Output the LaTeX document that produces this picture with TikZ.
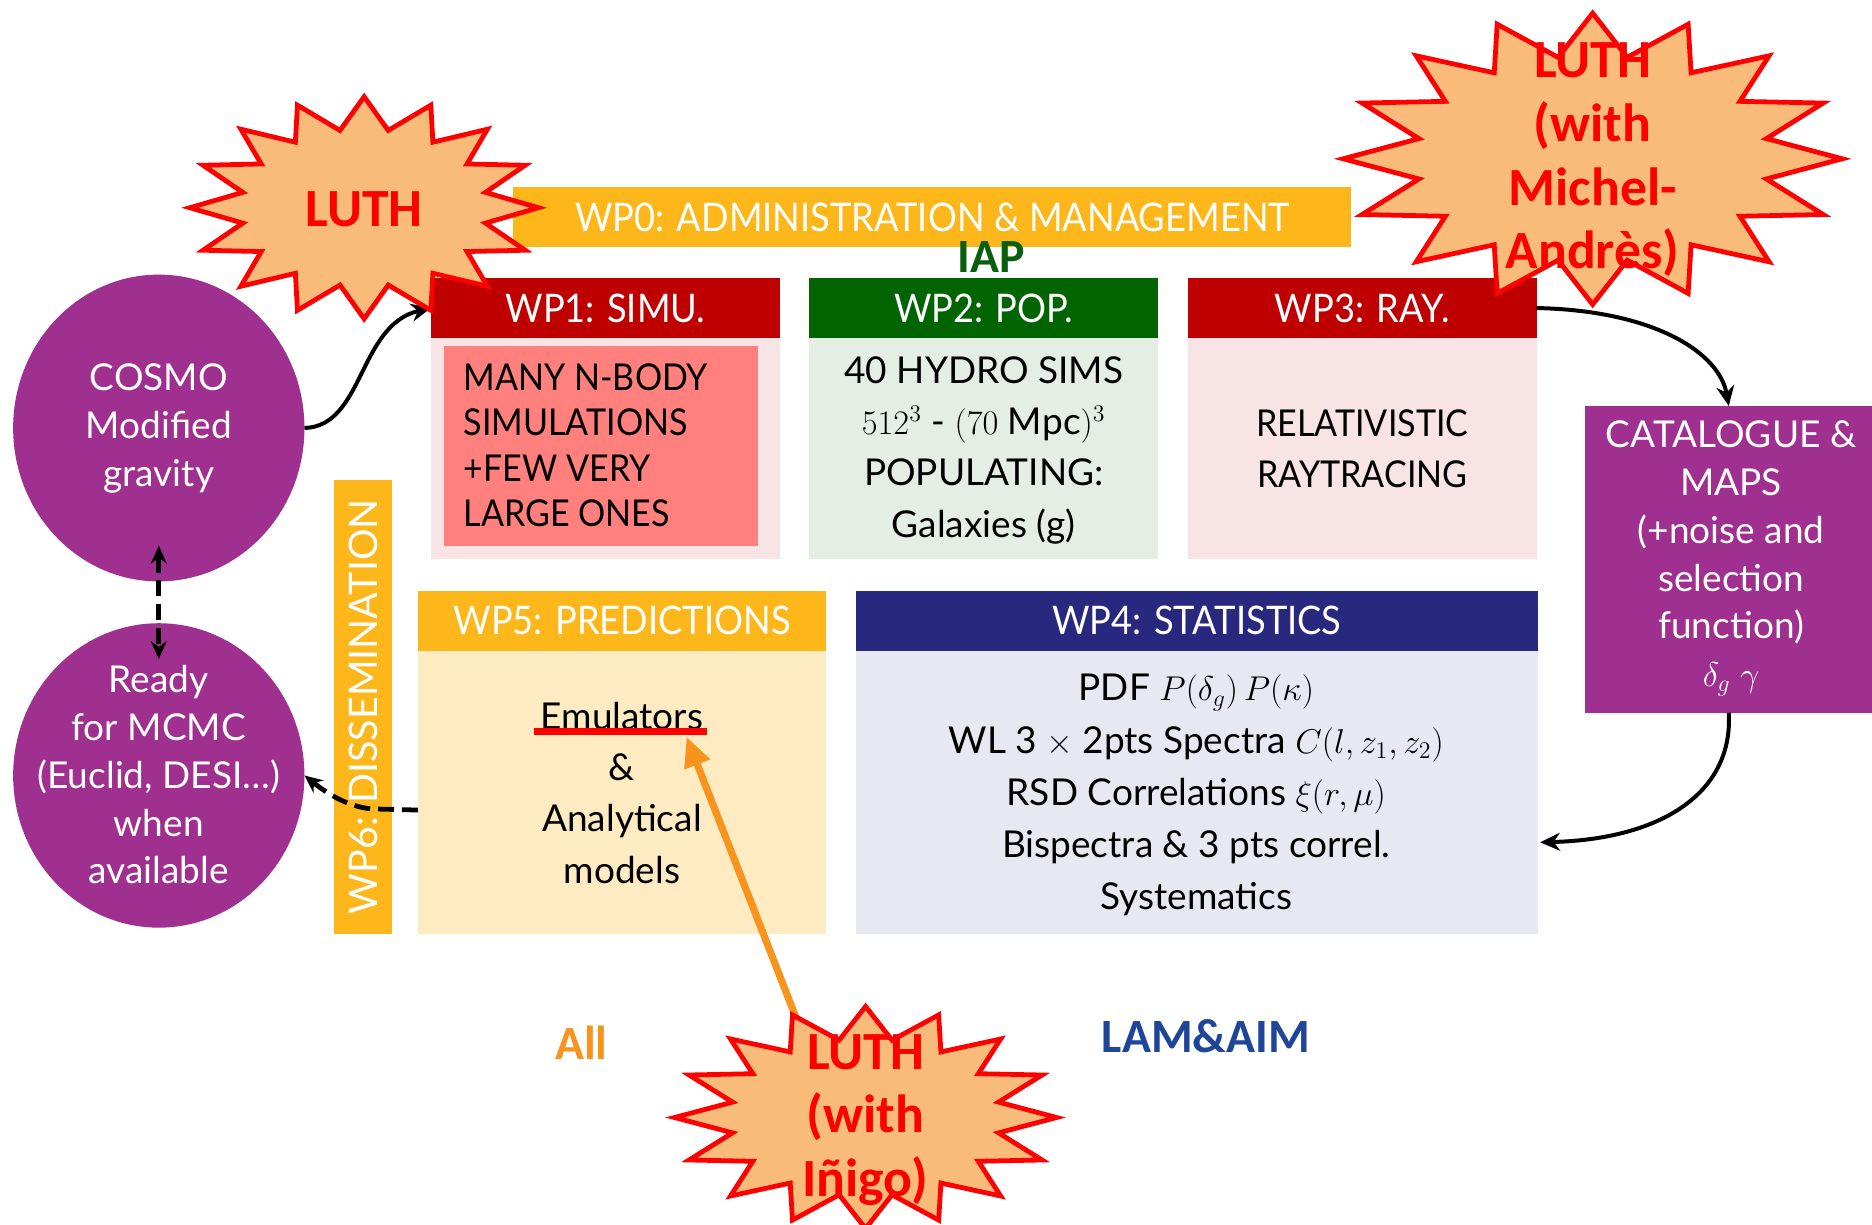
\documentclass[tikz,border=0pt]{standalone}
\usepackage{fontspec}
\setmainfont{Lato}
\newfontfamily\capsfont{Lato}[FakeStretch=0.92]
\newfontfamily\burstfont{Carlito}
\usetikzlibrary{arrows.meta,calc,shapes.geometric}

\definecolor{wpamber}{HTML}{FDB71A}
\definecolor{wpred}{HTML}{BE0000}
\definecolor{wpgreen}{HTML}{006400}
\definecolor{wpnavy}{HTML}{29287F}
\definecolor{wppurple}{HTML}{A0308F}
\definecolor{pinkbody}{HTML}{F8E4E5}
\definecolor{salmon}{HTML}{FF807C}
\definecolor{greenbody}{HTML}{E4EEE5}
\definecolor{cream}{HTML}{FFEBC2}
\definecolor{lavender}{HTML}{E8E8F3}
\definecolor{burstfill}{HTML}{F9BB7A}
\definecolor{allorange}{HTML}{F7941D}
\definecolor{lamblue}{HTML}{1F4599}
\definecolor{iapgreen}{HTML}{0B5E0E}

% one drawing unit
\newcommand\pxu{0.6pt}

% 16-point explosion outline around a named centre: centre, x radius, y radius
\newcommand\starburst[3]{%
  \draw[burstline, shift={(#1)}] plot[samples at={0,...,32}, variable=\k]
    ({(1-0.29*mod(\k,2))*#2*cos(90+11.25*\k)}, {(1-0.29*mod(\k,2))*#3*sin(90+11.25*\k)}) -- cycle;}

\tikzset{
  sz/.style 2 args={minimum width=#1*\pxu, minimum height=#2*\pxu},
  box/.style={rectangle, inner sep=0pt, outer sep=0pt},
  hdr/.style={box, text=white, font={\capsfont\fontsize{19.8}{23}\selectfont}},
  bodytext/.style={align=center, inner sep=0pt, font=\fontsize{18.6}{25.8}\selectfont},
  capstext/.style={align=center, inner sep=0pt, font={\capsfont\fontsize{18.6}{25.8}\selectfont}},
  blob/.style={ellipse, inner sep=0pt, outer sep=0pt, fill=wppurple},
  blobtext/.style={align=center, inner sep=0pt, text=white, font=\fontsize{18.6}{24}\selectfont},
  burstline/.style={fill=burstfill, draw=red, line width=2.4pt, line join=miter},
  bursttext/.style={align=center, inner sep=0pt, text=red, font={\burstfont\bfseries\fontsize{27}{32}\selectfont}},
  tag/.style={inner sep=0pt, font={\burstfont\bfseries\fontsize{24}{28}\selectfont}},
  link/.style={draw=black, line width=2pt, -{Stealth[length=10pt, width=9pt]}},
  dashlink/.style={draw=black, line width=2.4pt, dash pattern=on 8pt off 4pt},
  orangelink/.style={draw=allorange, line width=3.6pt, -{Triangle[length=15pt, width=13pt]}},
}

\begin{document}
\begin{tikzpicture}[x=0.6pt, y=-0.6pt]
\useasboundingbox (0,0) rectangle (1568,1026);
\fill[white] (0,0) rectangle (1568,1026);

% management bar
\node[hdr, fill=wpamber, sz={702}{50}] (wp0) at (781,182) {WP0: ADMINISTRATION \& MANAGEMENT};
\node[tag, text=iapgreen] (iap) at (830,215) {IAP};

% WP1
\node[box, fill=pinkbody, sz={292}{185}] (wp1b) at (507,375.5) {};
\node[hdr, fill=wpred, sz={292}{50}] (wp1h) at (507,258) {WP1: SIMU.};
\node[box, fill=salmon, sz={263}{167}] (wp1in) at (503.5,373.5) {};
\node[capstext, align=left, anchor=west, font={\capsfont\fontsize{18.6}{22.8}\selectfont}] (wp1t) at (388,373)
  {MANY N-BODY\\SIMULATIONS\\+FEW VERY\\LARGE ONES};

% WP2
\node[box, fill=greenbody, sz={292}{185}] (wp2b) at (824,375.5) {};
\node[hdr, fill=wpgreen, sz={292}{50}] (wp2h) at (824,258) {WP2: POP.};
\node[bodytext] (wp2t) at (824,377)
  {40 HYDRO SIMS\\$512^{3}$ - $(70\;\mathrm{Mpc})^{3}$\\POPULATING:\\Galaxies (g)};

% WP3
\node[box, fill=pinkbody, sz={292}{185}] (wp3b) at (1141,375.5) {};
\node[hdr, fill=wpred, sz={292}{50}] (wp3h) at (1141,258) {WP3: RAY.};
\node[capstext] (wp3t) at (1141,376) {RELATIVISTIC\\RAYTRACING};

% WP6
\node[box, fill=wpamber, sz={48}{380}] (wp6) at (304,592) {};
\node[hdr, rotate=90, font=\fontsize{19.8}{23}\selectfont] (wp6t) at (wp6) {WP6: DISSEMINATION};

% WP5
\node[box, fill=cream, sz={342}{237}] (wp5b) at (521,663.5) {};
\node[hdr, fill=wpamber, sz={342}{50}] (wp5h) at (521,520) {WP5: PREDICTIONS};
\node[bodytext] (wp5t) at (521,664) {Emulators\\\&\\Analytical\\models};
\draw[red, line width=3.6pt] (447,613) -- (592,613);

% WP4
\node[box, fill=lavender, sz={571}{237}] (wp4b) at (1002.5,663.5) {};
\node[hdr, fill=wpnavy, sz={571}{50}] (wp4h) at (1002.5,520) {WP4: STATISTICS};
\node[bodytext, font=\fontsize{18.6}{26.2}\selectfont] (wp4t) at (1002,666)
  {PDF $P\Bigl(\delta_g\Bigr)\,P(\kappa)$\\
   WL 3 $\times$ 2pts Spectra $C(l,z_1,z_2)$\\
   RSD Correlations $\xi(r,\mu)$\\
   Bispectra \& 3 pts correl.\\
   Systematics};

% catalogue
\node[box, fill=wppurple, sz={240}{257}] (cat) at (1448,468.5) {};
\node[blobtext] (catt) at (1450,468)
  {CATALOGUE \&\\MAPS\\(+noise and\\selection\\function)\\$\delta_g\ \gamma$};

% cosmology inputs and outputs
\node[blob, sz={244}{257}] (cosmo) at (133,358.5) {};
\node[blobtext] (cosmot) at (133,359) {COSMO\\Modified\\gravity};
\node[blob, sz={244}{255}] (ready) at (133,649.5) {};
\node[blobtext] (readyt) at (133,649) {Ready\\for MCMC\\(Euclid, DESI…)\\when\\available};

% labels under the boxes
\node[tag, text=allorange] (all) at (487,873) {All};
\node[tag, text=lamblue] (lam) at (1010,868) {LAM\&AIM};

% connectors
\draw[link] (cosmo.east) .. controls (305,357) and (300,272) .. (wp1h.west);
\draw[link] (wp3h.east) .. controls (1385,260) and (1440,295) .. (cat.north);
\draw[link] (cat.south) .. controls (1452,665) and (1390,703) .. ($(wp4b.east)+(2,42)$);
\draw[dashlink, {Stealth[length=9pt, width=8pt]}-{Stealth[length=9pt, width=8pt]},
      shorten <=-18pt, shorten >=-18pt] (cosmo.south) -- (ready.north);
\draw[dashlink, -{Stealth[length=9pt, width=8pt]}]
  ($(wp5b.west)+(0,15)$) -- ++(-39,-1) .. controls +(-22,-2) and +(15,12) .. (ready.east);

\coordinate (luthC) at (725,936);
\coordinate (orstart) at (667,853);
\coordinate (emultip) at (575,617);
\draw[orangelink] (orstart) -- (emultip);

% explosions
\coordinate (luthA) at (305,174);
\starburst{luthA}{146}{93}
\node[bursttext] (luthAt) at (305,175) {LUTH};

\coordinate (luthB) at (1334,133);
\starburst{luthB}{209}{122}
\node[bursttext] (luthBt) at (1334,134) {LUTH\\(with\\Michel-\\Andrès)};

\starburst{luthC}{160}{93}
\node[bursttext] (luthCt) at (725,938) {LUTH\\(with\\Iñigo)};
\end{tikzpicture}
\end{document}
